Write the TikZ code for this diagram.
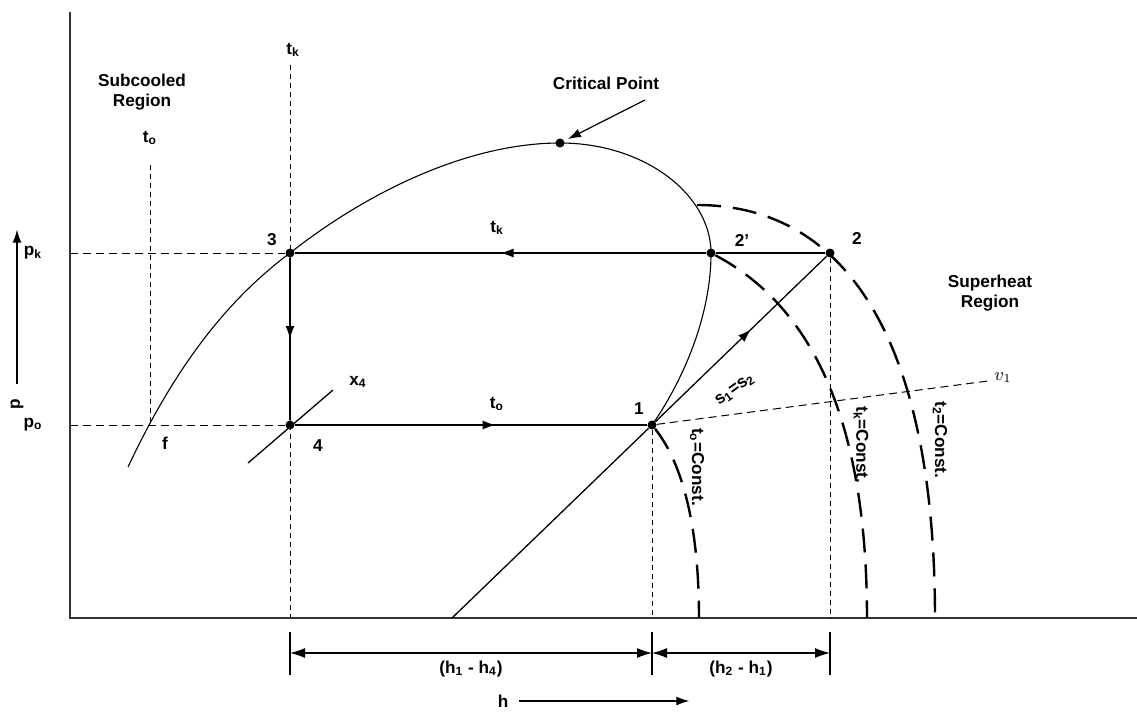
\documentclass[tikz,border=0pt]{standalone}
\usepackage{fontspec}
\setmainfont{Liberation Sans}
\usepackage{tikz}
\usetikzlibrary{arrows.meta,decorations.markings}
\newcommand{\idx}[2]{#1\textsubscript{#2}}

\begin{document}
\begin{tikzpicture}[
  x=0.5pt, y=-0.5pt,
  font=\fontsize{8.6}{10.3}\selectfont\bfseries,
  axis/.style={line width=0.9pt, black!80},
  proc/.style={line width=0.65pt},
  dome/.style={line width=0.55pt},
  guide/.style={line width=0.5pt, dash pattern=on 2.5pt off 2pt},
  pguide/.style={line width=0.5pt, dash pattern=on 4pt off 2.5pt},
  isotherm/.style={line width=1.2pt, dash pattern=on 12pt off 6pt},
  state/.style={circle, fill, inner sep=0pt, minimum size=4.5pt},
  midarrow/.style={postaction={decorate}, decoration={markings, mark=at position #1 with {\arrow{Latex[length=6.5pt,width=4.5pt]}}}},
  dimarrow/.style={{Latex[length=7.5pt,width=5pt]}-{Latex[length=7.5pt,width=5pt]}, line width=0.6pt},
  callout/.style={-{Latex[length=6.5pt,width=4.5pt]}, line width=0.6pt}
]
\useasboundingbox (0,0) rectangle (1137,713);

% Axes
\draw[axis] (70,12) -- (70,618) -- (1137,618);

% State points
\node[state] (p1) at (652,425) {};
\node[state] (p2) at (830,253) {};
\node[state] (p2s) at (711,253) {};
\node[state] (p3) at (290,253) {};
\node[state] (p4) at (290,425) {};
\node[state] (cp) at (560,143) {};
\coordinate (pk) at (70,253);
\coordinate (po) at (70,425);
\coordinate (base) at (452,618);

% Saturation dome
\draw[dome] (128,467) .. controls (175,367) and (227,300) .. (p3.center)
  .. controls (370,190) and (470,143) .. (cp.center)
  .. controls (645,143) and (711,195) .. (p2s.center)
  .. controls (711,320) and (680,385) .. (p1.center);

% Guide lines
\draw[pguide] (pk) -- (p3);
\draw[pguide] (po) -- (p4);
\draw[guide] (150,165) -- (150,425);
\draw[guide] (290,65) -- (290,618);
\draw[guide] (p1) -- (652,618);
\draw[guide] (p2) -- (830,618);
\draw[pguide] (p1) -- (988,381);

% Isotherms
\draw[isotherm] (p1) .. controls (672,450) and (699,500) .. (699,618);
\draw[isotherm] (p2s) .. controls (800,300) and (867,400) .. (867,618);
\draw[isotherm] (697,205) .. controls (840,205) and (935,330) .. (935,618);

% Cycle
\draw[proc] (p2) -- (p2s);
\draw[proc, midarrow=0.5] (p2s) -- (p3);
\draw[proc, midarrow=0.5] (p3) -- (p4);
\draw[proc, midarrow=0.57] (p4) -- (p1);
\draw[proc, midarrow=0.56] (p1) -- (p2);
\draw[proc] (base) -- (p1);
\draw[proc] (248,463) -- (333,390);

% Labels
\node (l1) at (639,409) {1};
\node (l2) at (857,238) {2};
\node (l2s) at (742,240) {2'};
\node (l3) at (272,240) {3};
\node (l4) at (318,446) {4};
\node (lf) at (165,443) {f};
\node (lx4) at (358,382) {\idx{x}{4}};
\node (ltk) at (497,228) {\idx{t}{k}};
\node (lto) at (497,404) {\idx{t}{o}};
\node (lpk) at (33,253) {\idx{p}{k}};
\node (lpo) at (33,425) {\idx{p}{o}};
\node (ltktop) at (293,50) {\idx{t}{k}};
\node (ltotop) at (150,138) {\idx{t}{o}};
\node[align=center] (sub) at (142,92) {Subcooled\\Region};
\node[align=center] (sup) at (990,293) {Superheat\\Region};
\node[rotate=-90] (ito) at (697,467) {\idx{t}{o}=Const.};
\node[rotate=-90] (itk) at (861,445) {\idx{t}{k}=Const.};
\node[rotate=-90] (it2) at (940,440) {\idx{t}{2}=Const.};
\node[rotate=36, inner sep=0pt] (ls) at (735,390) {\idx{s}{1}=\idx{s}{2}};
\node (lv) at (1003,378) {$v_1$};

% Critical point
\node (crit) at (606,83) {Critical Point};
\coordinate (critTail) at (645,100);
\draw[callout, shorten >=2pt] (critTail) -- (cp);

% Pressure axis arrow
\node[rotate=90] (lp) at (17,404) {p};
\draw[callout] ([yshift=4pt]lp.east) -- ++(0,-154);

% Enthalpy differences
\coordinate (d4) at (290,653);
\coordinate (d1) at (652,653);
\coordinate (d2) at (830,653);
\draw[proc] (290,632) -- (290,675);
\draw[proc] (652,632) -- (652,675);
\draw[proc] (830,632) -- (830,675);
\draw[dimarrow] (d4) -- node[below=0.5pt] {(\idx{h}{1} - \idx{h}{4})} (d1);
\draw[dimarrow] (d1) -- node[below=0.5pt] {(\idx{h}{2} - \idx{h}{1})} (d2);
\node (lh) at (503,701) {h};
\draw[callout] ([xshift=2pt]lh.east) -- ++(170,0);
\end{tikzpicture}
\end{document}
